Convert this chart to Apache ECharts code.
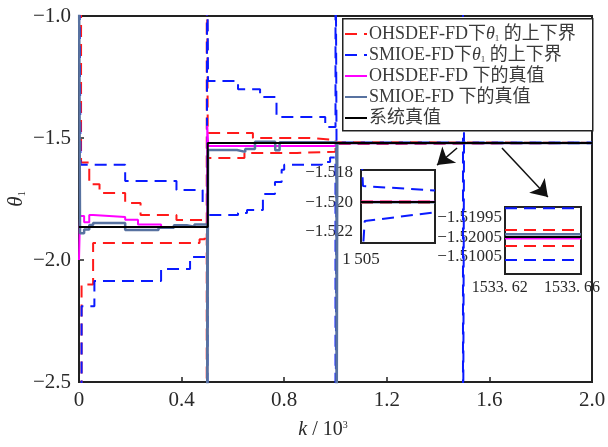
<!DOCTYPE html>
<html><head><meta charset="utf-8">
<script src="https://cdn.jsdelivr.net/npm/echarts@6/dist/echarts.min.js"></script>
<style>html,body{margin:0;padding:0;background:#fff}#c{width:608px;height:447px}</style>
</head><body><div id="c"></div>
<script>
// ---- data (k in units of 10^3) ----
const xTickVals = [0, 0.4, 0.8, 1.2, 1.6, 2.0];
const yTickVals = [-2.5, -2.0, -1.5, -1.0];
const legendNames = ['OHSDEF-FD下θ1 的上下界', 'SMIOE-FD下θ1 的上下界', 'OHSDEF-FD 下的真值', 'SMIOE-FD 下的真值', '系统真值'];

const ohsUpper = [[0,-0.5],[0.008,-1.60],[0.04,-1.69],[0.08,-1.725],[0.18,-1.766],[0.24,-1.816],[0.38,-1.836],[0.485,-1.85],[0.498,-0.5],[0.502,-1.48],[0.678,-1.50],[0.9,-1.508],[1.0,-1.517],[1.1,-1.51999],[2.0,-1.51999]];
const ohsLower = [[0,-3],[0.01,-2.10],[0.055,-1.93],[0.47,-1.915],[0.49,-1.89],[0.498,-3],[0.502,-1.582],[0.645,-1.561],[0.85,-1.556],[1.0,-1.525],[1.1,-1.5201],[2.0,-1.5201]];
const smiUpper = [[0,-0.5],[0.006,-1.61],[0.18,-1.676],[0.38,-1.713],[0.482,-1.775],[0.499,-0.5],[0.503,-1.266],[0.62,-1.30],[0.706,-1.332],[0.77,-1.414],[0.96,-1.455],[1.0,-0.5],[1.004,-1.5189],[1.497,-0.5],[1.501,-1.5189],[2.0,-1.5189]];
const smiLower = [[0,-3],[0.01,-2.19],[0.06,-2.086],[0.32,-2.037],[0.433,-1.988],[0.499,-3],[0.503,-1.816],[0.62,-1.807],[0.655,-1.795],[0.717,-1.73],[0.764,-1.68],[0.79,-1.63],[0.8,-1.61],[0.947,-1.598],[0.979,-1.58],[1.0,-3],[1.004,-1.5211],[1.497,-3],[1.501,-1.5211],[2.0,-1.5211]];
const ohsTrue = [[0,-2.0],[0.004,-1.82],[0.02,-1.845],[0.04,-1.816],[0.055,-1.824],[0.18,-1.835],[0.23,-1.855],[0.32,-1.865],[0.5,-1.45],[0.504,-1.533],[1.0,-1.522],[1.1,-1.52005],[2.0,-1.52005]];
const smiTrue = [[0,-0.8],[0.004,-1.89],[0.02,-1.875],[0.04,-1.857],[0.055,-1.848],[0.18,-1.877],[0.31,-1.868],[0.37,-1.858],[0.42,-1.864],[0.45,-1.855],[0.5,-3],[0.503,-1.549],[0.616,-1.557],[0.648,-1.545],[0.686,-1.515],[0.765,-1.55],[0.782,-1.517],[1.004,-3],[1.007,-1.52003],[2.0,-1.52003]];
const sysTrue = [[0,-1.865],[0.502,-1.52],[2.0,-1.52]];

// inset 1 (k raw)
const in1XTicks = [1505];
const in1YTicks = [-1.522, -1.520, -1.518];
const in1OhsUpper = [[1505,-1.51995],[1508,-1.51995]];
const in1OhsLower = [[1505,-1.52005],[1508,-1.52005]];
const in1SmiUpper = [[1505.03,-1.5170],[1505.08,-1.5189],[1508,-1.5192]];
const in1SmiLower = [[1505.05,-1.5240],[1505.15,-1.5213],[1508,-1.5207]];
const in1OhsTrue = [[1505,-1.51998],[1508,-1.51998]];
const in1SmiTrue = [[1505,-1.52002],[1508,-1.52002]];
const in1Sys = [[1505,-1.5200],[1508,-1.5200]];

// inset 2 (k raw)
const in2XTicks = [1533.62, 1533.66];
const in2YTicks = [-1.51995, -1.52005, -1.52015];
const in2YLabels = ['−1.51995', '−1.52005', '−1.51005'];
const in2OhsUpper = [[1533.618,-1.520012],[1533.6712,-1.520012]];
const in2OhsLower = [[1533.618,-1.520094],[1533.6712,-1.520094]];
const in2SmiUpper = [[1533.618,-1.519900],[1533.6712,-1.519900]];
const in2SmiLower = [[1533.618,-1.520165],[1533.6712,-1.520165]];
const in2OhsTrue = [[1533.618,-1.520055],[1533.6712,-1.520055]];
const in2SmiTrue = [[1533.618,-1.520033],[1533.6712,-1.520033]];
const in2Sys = [[1533.618,-1.520047],[1533.6712,-1.520047]];

// arrows (data units of main axes)
const arrow1 = [[1.474,-1.541],[1.396,-1.611]];
const arrow2 = [[1.649,-1.541],[1.828,-1.742]];

// ---- styling ----
const SERIF = "'Liberation Serif','Times New Roman','Noto Sans CJK SC',serif";
const TXT = '#2a2a2a';
const RED = '#ff1a1a', BLUE = '#0a1aff', MAG = '#ff00ff', STEEL = '#5872a0', BLK = '#000';
const DASH = [12, 7];
const minus = s => s.replace('-', '−');

function ser(name, data, color, dashed, width, xi, z, step) {
  return {
    type: 'line', name, data, xAxisIndex: xi, yAxisIndex: xi, symbol: 'none',
    step: step ? 'end' : false, clip: true, z: z, animation: false,
    lineStyle: { color, width, type: dashed ? DASH : 'solid' },
    itemStyle: { color }, emphasis: { disabled: true }
  };
}

const [nA, nB, nC, nD, nE] = legendNames;
const series = [
  ser(nA, ohsUpper, RED, true, 2, 0, 2, true),
  ser(nA, ohsLower, RED, true, 2, 0, 2, true),
  ser(nB, smiUpper, BLUE, true, 2, 0, 2, true),
  ser(nB, smiLower, BLUE, true, 2, 0, 2, true),
  ser(nC, ohsTrue, MAG, false, 2, 0, 3, true),
  ser(nD, smiTrue, STEEL, false, 2.5, 0, 3, true),
  ser(nE, sysTrue, BLK, false, 2, 0, 4, true),
  ser(nA, in1OhsUpper, RED, true, 2, 1, 6, false),
  ser(nA, in1OhsLower, RED, true, 2, 1, 6, false),
  ser(nB, in1SmiUpper, BLUE, true, 2, 1, 6, false),
  ser(nB, in1SmiLower, BLUE, true, 2, 1, 6, false),
  ser(nC, in1OhsTrue, MAG, false, 2, 1, 6, false),
  ser(nD, in1SmiTrue, STEEL, false, 2, 1, 6, false),
  ser(nE, in1Sys, BLK, false, 2, 1, 7, false),
  ser(nA, in2OhsUpper, RED, true, 2, 2, 6, false),
  ser(nA, in2OhsLower, RED, true, 2, 2, 6, false),
  ser(nB, in2SmiUpper, BLUE, true, 2, 2, 6, false),
  ser(nB, in2SmiLower, BLUE, true, 2, 2, 6, false),
  ser(nC, in2OhsTrue, MAG, false, 2, 2, 6, false),
  ser(nD, in2SmiTrue, STEEL, false, 2.5, 2, 6, false),
  ser(nE, in2Sys, BLK, false, 2, 2, 7, false)
];
series[6].markLine = {
  silent: true, symbol: ['none', 'arrow'], symbolSize: 16, animation: false,
  label: { show: false },
  itemStyle: { color: '#111' },
  lineStyle: { color: '#111', width: 1.5, type: 'solid' },
  data: [
    [{ coord: arrow1[0] }, { coord: arrow1[1] }],
    [{ coord: arrow2[0] }, { coord: arrow2[1] }]
  ]
};

const axLine = { show: true, lineStyle: { color: '#222', width: 2 } };
const lbl = (fs) => ({ color: TXT, fontFamily: SERIF, fontSize: fs });

const option = {
  animation: false,
  backgroundColor: '#fff',
  graphic: [
    { type: 'rect', left: 342, top: 18, z: 8, silent: true,
      shape: { width: 250, height: 112 },
      style: { fill: '#fff', stroke: '#222', lineWidth: 1.5 } }
  ],
  grid: [
    { left: 79, right: 16, top: 16, bottom: 65, show: true, borderColor: '#222', borderWidth: 2, outerBoundsMode: 'none', containLabel: false },
    { left: 361, top: 170, width: 74, height: 73, show: true, borderColor: '#222', borderWidth: 2, backgroundColor: '#fff', z: 5, outerBoundsMode: 'none', containLabel: false },
    { left: 505, top: 207, width: 76, height: 67, show: true, borderColor: '#222', borderWidth: 2, backgroundColor: '#fff', z: 5, outerBoundsMode: 'none', containLabel: false }
  ],
  xAxis: [
    { type: 'value', gridIndex: 0, min: 0, max: 2, interval: 0.4,
      axisLine: axLine, splitLine: { show: false },
      axisTick: { inside: true, length: 5, lineStyle: { color: '#222', width: 1.5 } },
      axisLabel: Object.assign(lbl(21), { margin: 8, formatter: v => v === 0 ? '0' : v.toFixed(1) }),
      name: '{i|k}{n| / 10}{p|3}', nameLocation: 'middle', nameGap: 38,
      nameTextStyle: { padding: [0, 25, 0, 0], rich: {
        i: { fontFamily: SERIF, fontStyle: 'italic', fontSize: 20, color: TXT },
        n: { fontFamily: SERIF, fontSize: 20, color: TXT },
        p: { fontFamily: SERIF, fontSize: 10, color: TXT, verticalAlign: 'top', padding: [0, 0, 10, 0] } } } },
    { type: 'value', gridIndex: 1, min: 1505, max: 1508,
      axisLine: axLine, splitLine: { show: false },
      axisTick: { show: true, inside: true, length: 4, customValues: in1XTicks, lineStyle: { color: '#222', width: 1.5 } },
      axisLabel: Object.assign(lbl(17), { margin: 8, showMinLabel: true, customValues: in1XTicks, formatter: v => '1\u2009505' }) },
    { type: 'value', gridIndex: 2, min: 1533.618, max: 1533.6712,
      axisLine: axLine, splitLine: { show: false },
      axisTick: { show: true, inside: true, length: 4, customValues: in2XTicks, lineStyle: { color: '#222', width: 1.5 } },
      axisLabel: Object.assign(lbl(16), { margin: 6, showMinLabel: true, showMaxLabel: true, hideOverlap: false,
        customValues: in2XTicks,
        formatter: v => (Math.abs(v - in2XTicks[0]) < 1e-6 ? '{a|' : '{b|') + v.toFixed(2).replace('.', '. ') + '}',
        rich: { a: { fontFamily: SERIF, fontSize: 16, color: TXT, padding: [0, 16, 0, 0] },
                b: { fontFamily: SERIF, fontSize: 16, color: TXT, padding: [0, 0, 0, 14] } } }) }
  ],
  yAxis: [
    { type: 'value', gridIndex: 0, min: -2.5, max: -1.0, interval: 0.5,
      axisLine: axLine, splitLine: { show: false },
      axisTick: { inside: true, length: 5, lineStyle: { color: '#222', width: 1.5 } },
      axisLabel: Object.assign(lbl(21), { margin: 8, formatter: v => minus(v.toFixed(1)) }),
      name: '{t|θ}{s|1}', nameLocation: 'middle', nameGap: 52, nameRotate: 90, nameMoveOverlap: false,
      nameTextStyle: { rich: {
        t: { fontFamily: SERIF, fontStyle: 'italic', fontSize: 21, color: TXT },
        s: { fontFamily: SERIF, fontSize: 10, color: TXT, verticalAlign: 'bottom', padding: [8, 0, 0, 0] } } } },
    { type: 'value', gridIndex: 1, min: -1.5228, max: -1.5178,
      axisLine: axLine, splitLine: { show: false },
      axisTick: { show: true, inside: true, length: 4, customValues: in1YTicks, lineStyle: { color: '#222', width: 1.5 } },
      axisLabel: Object.assign(lbl(17), { margin: 8, showMinLabel: true, showMaxLabel: true, customValues: in1YTicks, formatter: v => minus(v.toFixed(3)) }) },
    { type: 'value', gridIndex: 2, min: -1.520237, max: -1.519894,
      axisLine: axLine, splitLine: { show: false },
      axisTick: { show: true, inside: true, length: 4, customValues: in2YTicks, lineStyle: { color: '#222', width: 1.5 } },
      axisLabel: Object.assign(lbl(17), { margin: 3, showMinLabel: true, showMaxLabel: true, customValues: in2YTicks,
        formatter: v => { let i = in2YTicks.findIndex(t => Math.abs(t - v) < 1e-8); return i >= 0 ? in2YLabels[i] : ''; } }) }
  ],
  legend: {
    data: legendNames, orient: 'vertical', left: 344, top: 25,
    itemWidth: 22, itemHeight: 18, itemGap: 3,
    itemStyle: { opacity: 0 },
    padding: 0, z: 10, selectedMode: false,
    formatter: name => {
      if (name.indexOf('θ1') >= 0) {
        const p = name.split('θ1');
        return '{n|' + p[0] + '}{t|θ}{s|1}{n|' + p[1] + '}';
      }
      return '{n|' + name + '}';
    },
    textStyle: { color: '#3a3a3a', fontFamily: SERIF, fontSize: 18, padding: [0, 0, 0, -3],
      rich: {
        n: { fontFamily: SERIF, fontSize: 18, color: '#3a3a3a', lineHeight: 18 },
        t: { fontFamily: SERIF, fontStyle: 'italic', fontSize: 18, color: '#3a3a3a', lineHeight: 18 },
        s: { fontFamily: SERIF, fontSize: 9, color: '#3a3a3a', verticalAlign: 'bottom', lineHeight: 18, padding: [6, 0, 0, 0] }
      } }
  },
  series
};

const chart = echarts.init(document.getElementById('c'), null, { renderer: 'canvas' });
chart.setOption(option);
</script></body></html>
